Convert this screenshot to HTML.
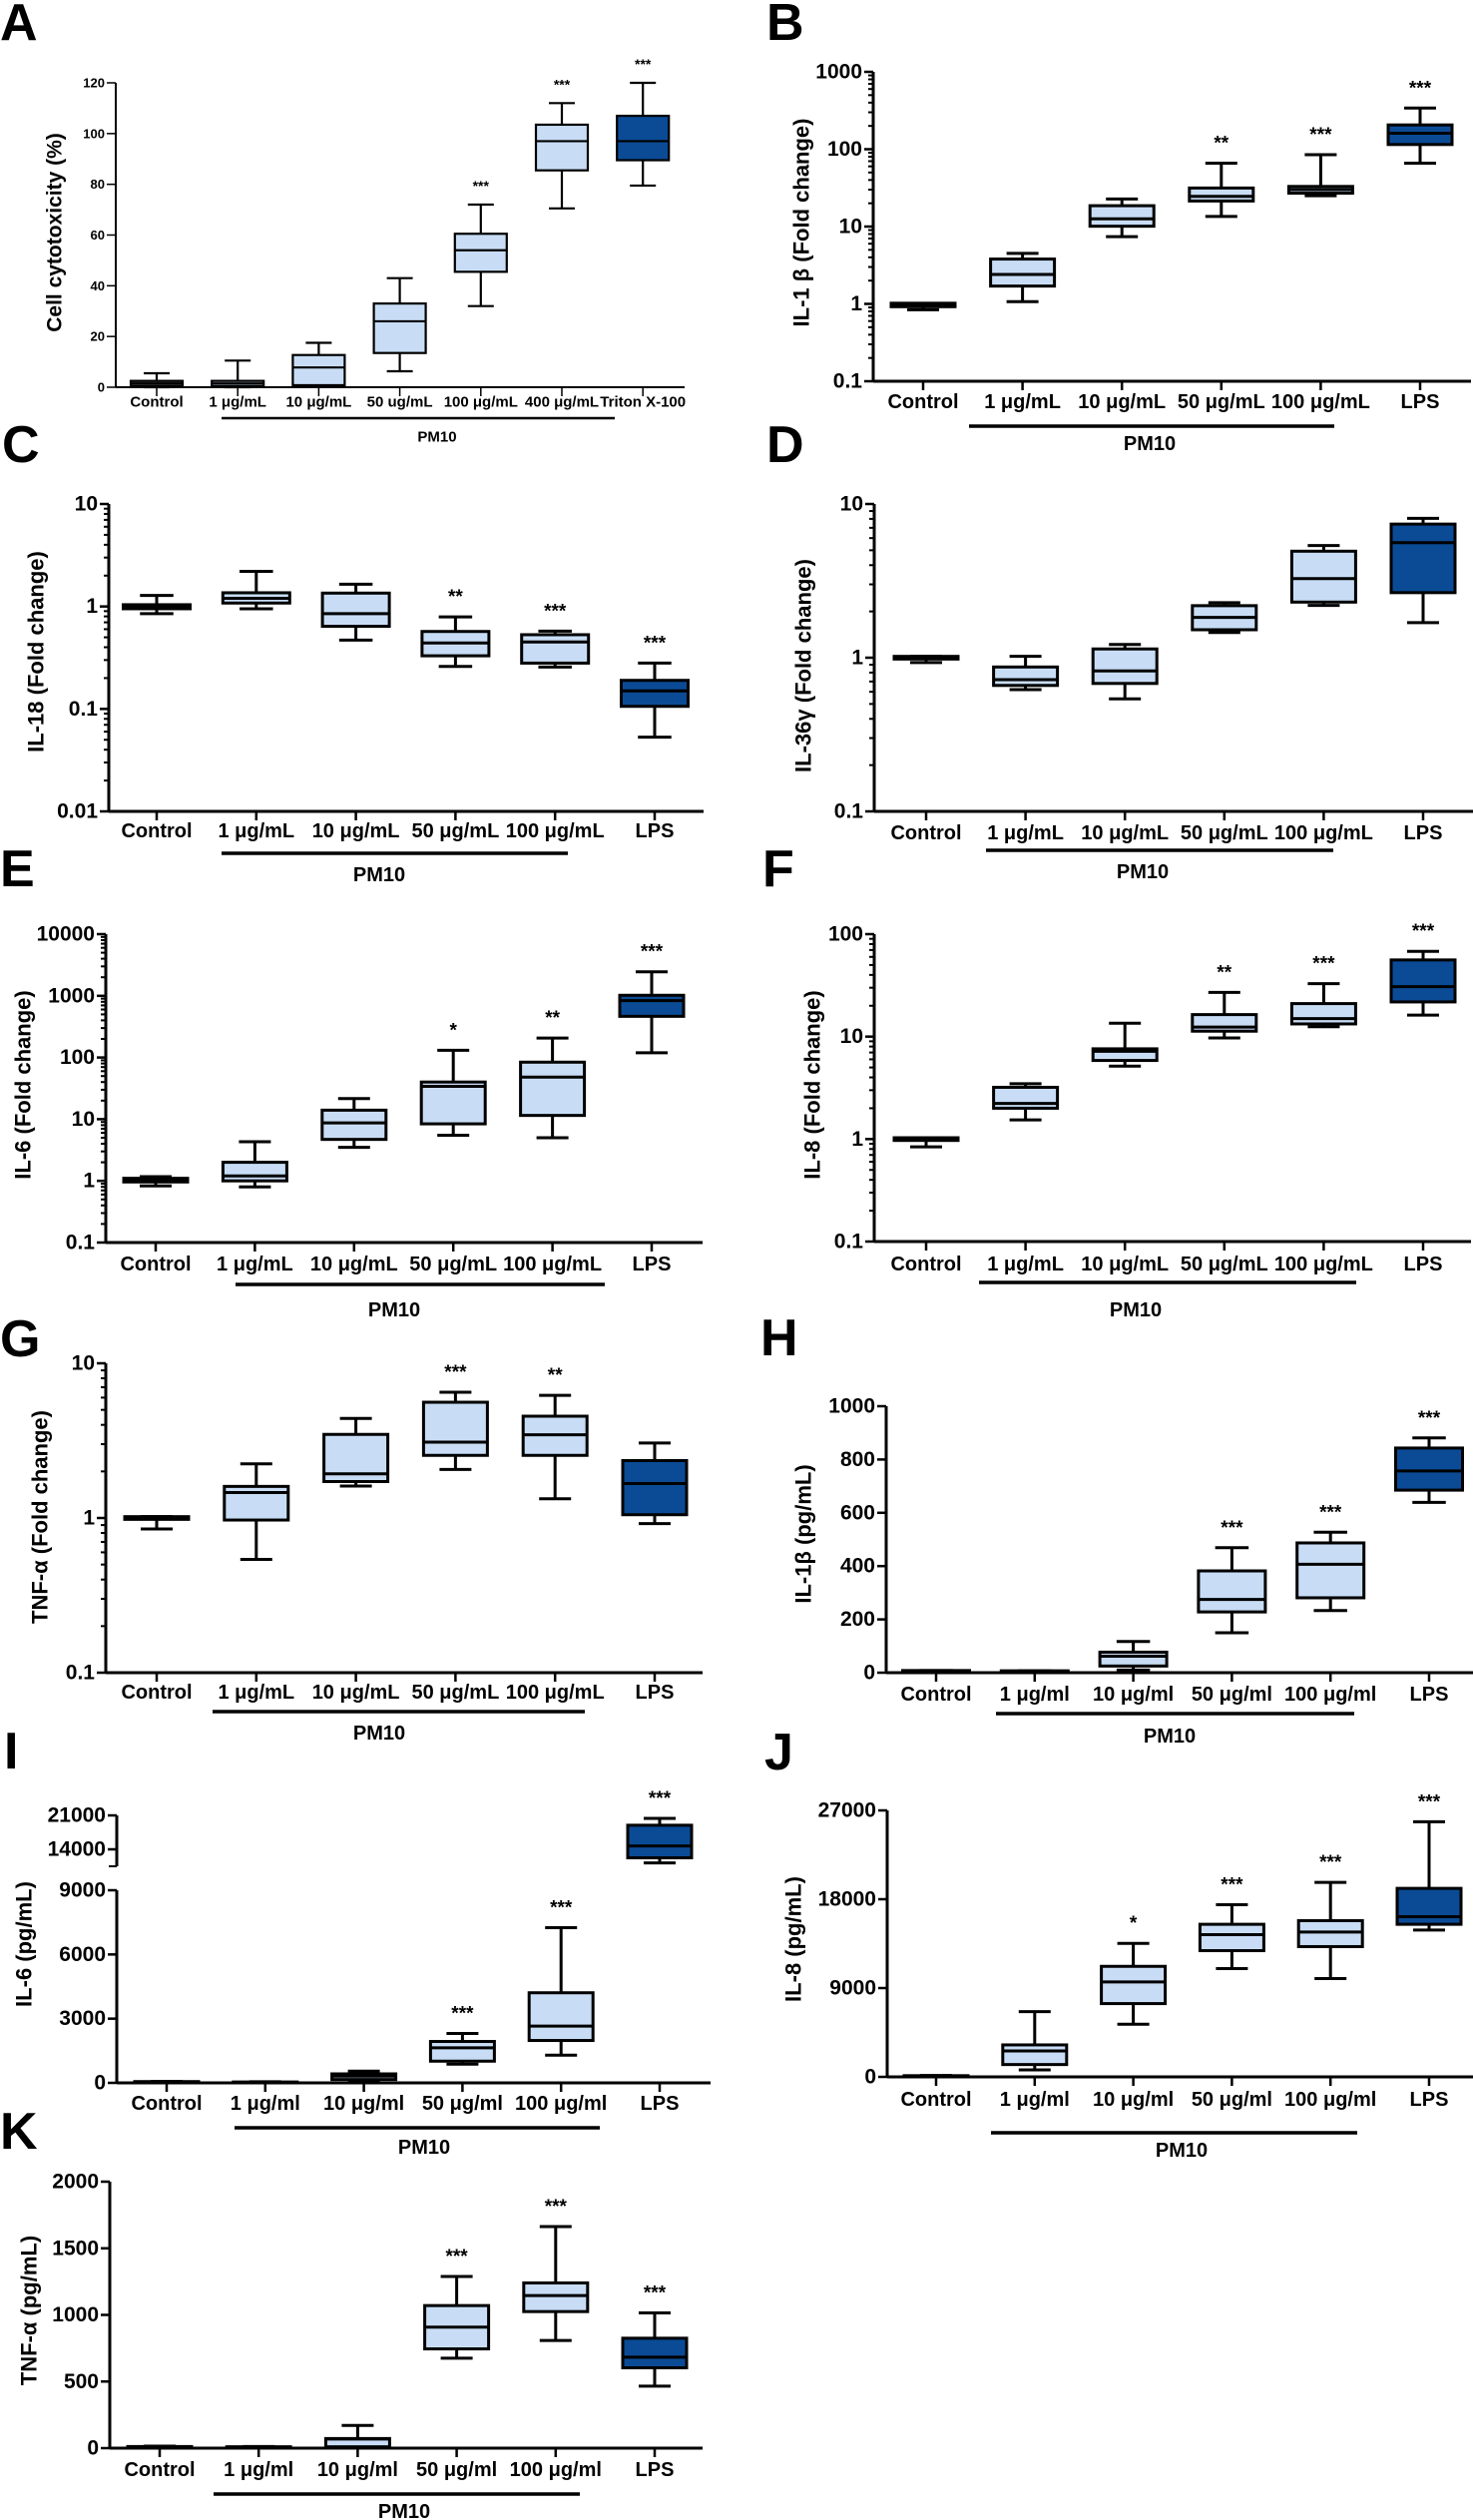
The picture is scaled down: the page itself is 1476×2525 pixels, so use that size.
<!DOCTYPE html>
<html><head><meta charset="utf-8"><title>Cytokine box plots</title>
<style>
html,body{margin:0;padding:0;background:#fff;}
svg{display:block;}
.nar{font-family:"Liberation Sans Narrow","Liberation Sans",sans-serif;font-weight:bold;font-stretch:condensed;}
.wide{font-family:"Liberation Sans",sans-serif;font-weight:bold;}
</style></head>
<body>
<svg id="fig" xmlns="http://www.w3.org/2000/svg" width="1476" height="2525" viewBox="0 0 1476 2525"></svg>
<script>
// ---------- DATA ----------
const catsA = ["Control","1 μg/mL","10 μg/mL","50 ug/mL","100 μg/mL","400 μg/mL","Triton X-100"];
const catsL = ["Control","1 μg/mL","10 μg/mL","50 μg/mL","100 μg/mL","LPS"];
const catsS = ["Control","1 μg/ml","10 μg/ml","50 μg/ml","100 μg/ml","LPS"];

const A_min=[0,0,0.7,6.3,32,70.5,79.5], A_q1=[0.5,0.5,0.8,13.5,45.5,85.5,89.5], A_med=[1.5,1.5,7.8,26,54,97,97], A_q3=[2.5,2.5,12.7,33,60.5,103.5,107], A_max=[5.5,10.5,17.5,43,72,112,120];
const A_stars=["","","","","***","***","***"];
const A_ticks=[0,20,40,60,80,100,120];

const B_min=[0.84,1.07,7.4,13.5,25,66], B_q1=[0.92,1.7,10.1,21.4,27,115], B_med=[0.97,2.4,12.6,24.6,30,161], B_q3=[1.02,3.8,18.6,31.5,33,206], B_max=[1.0,4.5,22.7,66,85,340];
const B_stars=["","","","**","***","***"];
const B_ticks=[0.1,1,10,100,1000];

const C_min=[0.85,0.95,0.47,0.26,0.256,0.053], C_q1=[0.95,1.08,0.64,0.33,0.28,0.106], C_med=[1.0,1.2,0.85,0.44,0.45,0.15], C_q3=[1.04,1.36,1.35,0.57,0.53,0.19], C_max=[1.28,2.2,1.65,0.79,0.575,0.28];
const C_stars=["","","","**","***","***"];
const C_ticks=[0.01,0.1,1,10];

const D_min=[0.93,0.62,0.54,1.46,2.19,1.69], D_q1=[0.98,0.66,0.68,1.52,2.3,2.65], D_med=[1.0,0.72,0.82,1.83,3.27,5.6], D_q3=[1.02,0.87,1.14,2.18,4.93,7.4], D_max=[1.02,1.02,1.22,2.28,5.37,8.07];
const D_stars=["","","","","",""];
const D_ticks=[0.1,1,10];

const E_min=[0.83,0.8,3.5,5.5,5.0,119], E_q1=[0.96,1.0,4.7,8.4,11.5,465], E_med=[1.0,1.2,8.7,34,48,835], E_q3=[1.1,2.0,14,40,84,1020], E_max=[1.17,4.3,21.6,131,207,2450];
const E_stars=["","","","*","**","***"];
const E_ticks=[0.1,1,10,100,1000,10000];

const F_min=[0.84,1.54,5.15,9.7,12.5,16.2], F_q1=[0.97,2.0,5.85,11.3,13.3,21.8], F_med=[1.0,2.23,7.2,12.4,15,30.7], F_q3=[1.03,3.2,7.6,16.4,21,56], F_max=[1.03,3.47,13.5,27,32.9,68];
const F_stars=["","","","**","***","***"];
const F_ticks=[0.1,1,10,100];

const G_min=[0.85,0.54,1.61,2.06,1.33,0.92], G_q1=[0.98,0.97,1.72,2.54,2.54,1.05], G_med=[1.0,1.46,1.93,3.09,3.45,1.67], G_q3=[1.02,1.6,3.47,5.6,4.55,2.35], G_max=[1.02,2.24,4.4,6.5,6.2,3.05];
const G_stars=["","","","***","**",""];
const G_ticks=[0.1,1,10];

const H_min=[2,2,10,150,233,639], H_q1=[3,3,25,228,281,685], H_med=[5,5,62,275,407,757], H_q3=[8,7,77,382,487,843], H_max=[8,7,117,469,527,881];
const H_stars=["","","","***","***","***"];
const H_ticks=[0,200,400,600,800,1000];

const I_min=[20,15,31,873,1295,11200], I_q1=[30,25,156,1014,1980,12250], I_med=[45,30,312,1640,2650,14700], I_q3=[60,40,420,1934,4210,18970], I_max=[70,50,546,2310,7250,20370];
const I_stars=["","","","***","***","***"];
const I_ticks=[0,3000,6000,9000,14000,21000];

const J_min=[60,710,5330,10970,9960,14880], J_q1=[80,1250,7425,12790,13200,15460], J_med=[100,2630,9620,14410,14680,16230], J_q3=[120,3240,11200,15460,15830,19100], J_max=[140,6615,13530,17450,19710,25850];
const J_stars=["","","*","***","***","***"];
const J_ticks=[0,9000,18000,27000];

const K_min=[5,4,2,675,808,465], K_q1=[8,6,10,745,1025,603], K_med=[10,8,68,908,1145,683], K_q3=[12,10,72,1070,1240,825], K_max=[15,12,170,1288,1663,1015];
const K_stars=["","","","***","***","***"];
const K_ticks=[0,500,1000,1500,2000];

// ---------- LAYOUT ----------
const NS="http://www.w3.org/2000/svg";
const svg=document.getElementById('fig');
function mk(tag,attrs,parent){const e=document.createElementNS(NS,tag);for(const k in attrs)e.setAttribute(k,attrs[k]);(parent||svg).appendChild(e);return e;}
const LIGHT="#c8ddf5", DARK="#0b4b96";

const panels=[
 {id:"a",letter:"A",lx:0,ly:40,ax:116,xr:686,yTop:83,yBot:388,log:false,min:0,max:120,ticks:A_ticks,cx0:157,step:81.2,bw:52,cats:catsA,
  mn:A_min,q1:A_q1,md:A_med,q3:A_q3,mx:A_max,stars:A_stars,labY:403,pm:[222,616,419,438,438],title:"Cell cytotoxicity (%)",tx:55,ty:233,small:true,darkIdx:6,grayIdx:0},
 {id:"b",letter:"B",lx:768,ly:40,ax:875,xr:1474,yTop:72,yBot:382,log:true,min:0.1,max:1000,ticks:B_ticks,cx0:925,step:99.6,bw:64,cats:catsL,
  mn:B_min,q1:B_q1,md:B_med,q3:B_q3,mx:B_max,stars:B_stars,labY:403,pm:[971,1337,427,1152,445],title:"IL-1 β (Fold change)",tx:803,ty:223,darkIdx:5},
 {id:"c",letter:"C",lx:2,ly:463,ax:109,xr:705,yTop:505,yBot:813,log:true,min:0.01,max:10,ticks:C_ticks,cx0:157,step:99.8,bw:67,cats:catsL,
  mn:C_min,q1:C_q1,md:C_med,q3:C_q3,mx:C_max,stars:C_stars,labY:833,pm:[222,569,855,380,877],title:"IL-18 (Fold change)",tx:36,ty:653,darkIdx:5},
 {id:"d",letter:"D",lx:768,ly:463,ax:876,xr:1476,yTop:505,yBot:813,log:true,min:0.1,max:10,ticks:D_ticks,cx0:928,step:99.6,bw:64,cats:catsL,
  mn:D_min,q1:D_q1,md:D_med,q3:D_q3,mx:D_max,stars:D_stars,labY:835,pm:[988,1336,852,1145,874],title:"IL-36γ (Fold change)",tx:805,ty:667,darkIdx:5},
 {id:"e",letter:"E",lx:0,ly:888,ax:106,xr:704,yTop:936,yBot:1245,log:true,min:0.1,max:10000,ticks:E_ticks,cx0:156,step:99.4,bw:64,cats:catsL,
  mn:E_min,q1:E_q1,md:E_med,q3:E_q3,mx:E_max,stars:E_stars,labY:1267,pm:[236,606,1287,395,1313],title:"IL-6 (Fold change)",tx:23,ty:1087,darkIdx:5},
 {id:"f",letter:"F",lx:764,ly:888,ax:876,xr:1474,yTop:936,yBot:1244,log:true,min:0.1,max:100,ticks:F_ticks,cx0:928,step:99.6,bw:64,cats:catsL,
  mn:F_min,q1:F_q1,md:F_med,q3:F_q3,mx:F_max,stars:F_stars,labY:1267,pm:[981,1359,1285,1138,1313],title:"IL-8 (Fold change)",tx:814,ty:1087,darkIdx:5},
 {id:"g",letter:"G",lx:0,ly:1359,ax:106,xr:704,yTop:1366,yBot:1676,log:true,min:0.1,max:10,ticks:G_ticks,cx0:157,step:99.8,bw:64,cats:catsL,
  mn:G_min,q1:G_q1,md:G_med,q3:G_q3,mx:G_max,stars:G_stars,labY:1696,pm:[213,586,1715,380,1737],title:"TNF-α (Fold change)",tx:40,ty:1520,darkIdx:5},
 {id:"h",letter:"H",lx:762,ly:1358,ax:888,xr:1476,yTop:1409,yBot:1676,log:false,min:0,max:1000,ticks:H_ticks,cx0:938,step:98.8,bw:67,cats:catsS,
  mn:H_min,q1:H_q1,md:H_med,q3:H_q3,mx:H_max,stars:H_stars,labY:1698,pm:[998,1357,1717,1172,1740],title:"IL-1β (pg/mL)",tx:805,ty:1537,darkIdx:5},
 {id:"i",letter:"I",lx:4,ly:1772,ax:117,xr:712,yTop:1894,yBot:2087,log:false,min:0,max:9000,ticks:I_ticks,cx0:167,step:98.8,bw:64,cats:catsS,
  mn:I_min,q1:I_q1,md:I_med,q3:I_q3,mx:I_max,stars:I_stars,labY:2108,pm:[235,601,2132,425,2152],title:"IL-6 (pg/mL)",tx:24,ty:1948,darkIdx:5,
  broken:{lo:10500,hi:21000,yLo:1870,yHi:1819}},
 {id:"j",letter:"J",lx:766,ly:1773,ax:889,xr:1476,yTop:1814,yBot:2081,log:false,min:0,max:27000,ticks:J_ticks,cx0:938,step:98.8,bw:64,cats:catsS,
  mn:J_min,q1:J_q1,md:J_med,q3:J_q3,mx:J_max,stars:J_stars,labY:2104,pm:[993,1360,2137,1184,2155],title:"IL-8 (pg/mL)",tx:795,ty:1943,darkIdx:5},
 {id:"k",letter:"K",lx:0,ly:2153,ax:110,xr:704,yTop:2186,yBot:2453,log:false,min:0,max:2000,ticks:K_ticks,cx0:160,step:99.2,bw:64,cats:catsS,
  mn:K_min,q1:K_q1,md:K_med,q3:K_q3,mx:K_max,stars:K_stars,labY:2475,pm:[214,581,2499,405,2517],title:"TNF-α (pg/mL)",tx:29,ty:2315,darkIdx:5}
];

function makeScale(p){
  if(p.log){
    const a=Math.log10(p.min), b=Math.log10(p.max);
    return v=>p.yBot-(Math.log10(v)-a)/(b-a)*(p.yBot-p.yTop);
  }
  if(p.broken){
    const br=p.broken;
    return v=> v<=p.max ? p.yBot-(v-p.min)/(p.max-p.min)*(p.yBot-p.yTop)
                        : br.yLo-(v-br.lo)/(br.hi-br.lo)*(br.yLo-br.yHi);
  }
  return v=>p.yBot-(v-p.min)/(p.max-p.min)*(p.yBot-p.yTop);
}
function fmt(v){ if(v<1) return String(v); return String(v); }

function drawPanel(p){
  const y=makeScale(p);
  const small=!!p.small;
  const g=mk('g',{});
  
  
  const tickFs=small?13:21, catFs=small?15:20, starFs=small?14:19, titleFs=small?21:22;
  // panel letter
  const L=mk('text',{x:p.lx,y:p.ly,'font-size':52,class:'wide',fill:'#000'},g);
  L.textContent=p.letter;
  
  
  // y axis
  const sw=small?2:3;
  let axTop=p.yTop;
  const ya=mk('line',{x1:p.ax,y1:axTop,x2:p.ax,y2:p.yBot,stroke:'#000','stroke-width':sw},g);
  
  
  if(p.broken){
    const yb=mk('line',{x1:p.ax,y1:p.broken.yHi,x2:p.ax,y2:p.broken.yLo,stroke:'#000','stroke-width':sw},g);
    
    
    mk('line',{x1:p.ax-8,y1:p.broken.yLo,x2:p.ax,y2:p.broken.yLo,stroke:'#000','stroke-width':2},g);
  }
  // x axis
  const xa=mk('line',{x1:p.ax,y1:p.yBot,x2:p.xr,y2:p.yBot,stroke:'#000','stroke-width':sw},g);
  
  
  // y ticks
  p.ticks.forEach(t=>{
    const ty=y(t);
    mk('line',{x1:p.ax-9,y1:ty,x2:p.ax,y2:ty,stroke:'#000','stroke-width':small?1.5:2.5},g);
    const tl=mk('text',{x:p.ax-11,y:ty,'font-size':tickFs,'text-anchor':'end','dominant-baseline':'central',class:'nar'},g);
    tl.textContent=fmt(t);
    
    
  });
  if(p.log){
    const a=Math.round(Math.log10(p.min)), b=Math.round(Math.log10(p.max));
    for(let d=a; d<b; d++){
      for(let m=2;m<=9;m++){
        const ty=y(m*Math.pow(10,d));
        mk('line',{x1:p.ax-5,y1:ty,x2:p.ax,y2:ty,stroke:'#000','stroke-width':2},g);
      }
    }
  }
  // boxes
  p.cats.forEach((c,i)=>{
    const cx=p.cx0+i*p.step;
    mk('line',{x1:cx,y1:p.yBot,x2:cx,y2:p.yBot+9,stroke:'#000','stroke-width':small?1.5:2.5},g);
    const cl=mk('text',{x:cx,y:p.labY,'font-size':catFs,'text-anchor':'middle','dominant-baseline':'central',class:'nar'},g);
    cl.textContent=c;
    
    
    const bw=p.bw, cap=bw/2, lw=small?2.2:3;
    const bg=mk('g',{},g);
    
    
    const yMn=y(p.mn[i]), yMx=y(p.mx[i]), yQ1=y(p.q1[i]), yQ3=y(p.q3[i]), yMd=y(p.md[i]);
    mk('line',{x1:cx,y1:yMx,x2:cx,y2:yMn,stroke:'#000','stroke-width':lw},bg);
    mk('line',{x1:cx-cap/2,y1:yMx,x2:cx+cap/2,y2:yMx,stroke:'#000','stroke-width':lw},bg);
    mk('line',{x1:cx-cap/2,y1:yMn,x2:cx+cap/2,y2:yMn,stroke:'#000','stroke-width':lw},bg);
    let fill=LIGHT;
    if(i===p.darkIdx) fill=DARK;
    if(i===p.grayIdx) fill='#5a5a5a';
    mk('rect',{x:cx-bw/2,y:Math.min(yQ1,yQ3),width:bw,height:Math.max(0.5,Math.abs(yQ1-yQ3)),fill:fill,stroke:'#000','stroke-width':lw},bg);
    mk('line',{x1:cx-bw/2,y1:yMd,x2:cx+bw/2,y2:yMd,stroke:'#000','stroke-width':lw},bg);
    if(p.stars[i]){
      const st=mk('text',{x:cx,y:yMx-14,'font-size':starFs,'text-anchor':'middle',class:'nar'},g);
      st.textContent=p.stars[i];
      
      
    }
  });
  // PM10 bracket
  const pl=mk('line',{x1:p.pm[0],y1:p.pm[2],x2:p.pm[1],y2:p.pm[2],stroke:'#000','stroke-width':small?2.5:3.5},g);
  
  
  const pt=mk('text',{x:p.pm[3],y:p.pm[4],'font-size':catFs,'text-anchor':'middle','dominant-baseline':'central',class:'nar'},g);
  pt.textContent='PM10';
  
  
  // y title
  const yt=mk('text',{x:0,y:0,'font-size':titleFs,'text-anchor':'middle','dominant-baseline':'central',class:'wide',transform:`translate(${p.tx},${p.ty}) rotate(-90)`},g);
  yt.textContent=p.title;
  
  
}
panels.forEach(drawPanel);
</script>
</body></html>
